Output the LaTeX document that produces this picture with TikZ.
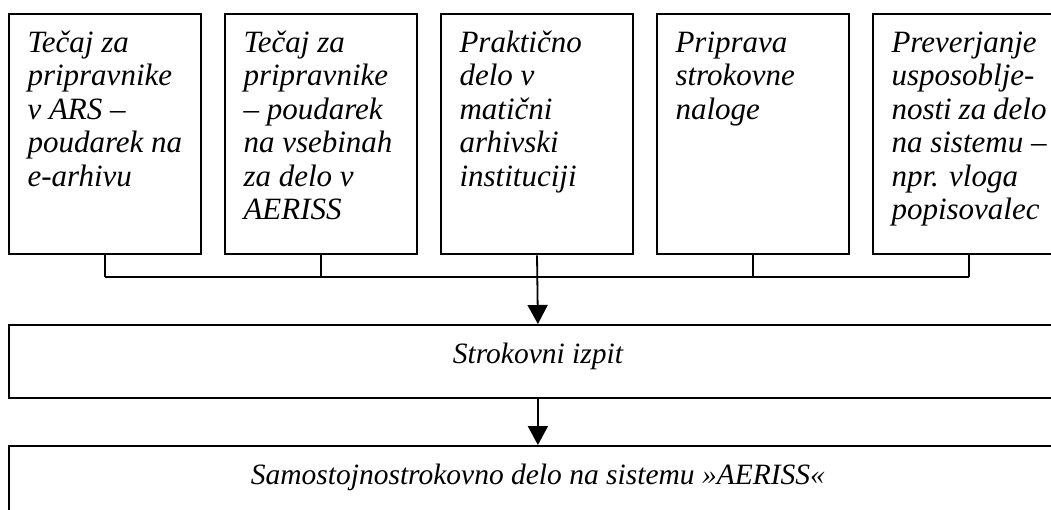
\documentclass[tikz,border=0pt]{standalone}
\usepackage{fontspec}
\setmainfont{Liberation Serif}[ItalicFont={Liberation Serif Italic}]
\usetikzlibrary{arrows.meta}

\newcommand{\stepwidth}{155pt}
\newcommand{\stepheight}{211pt}
\newcommand{\steptext}[1]{\parbox[t][\stepheight][t]{\stepwidth}{\raggedright\strut #1}}

\begin{document}
\begin{tikzpicture}[x=1pt, y=-1pt,
  stepbox/.style={draw, line width=1.8pt, rectangle, anchor=north,
    inner xsep=18.5pt, inner ysep=14.5pt,
    font=\itshape\fontsize{31}{33.5}\selectfont},
  stagebox/.style={draw, line width=1.8pt, rectangle, anchor=north west,
    minimum width=1058pt, inner sep=0pt, text height=39pt, text depth=34pt,
    font=\itshape\fontsize{29.5}{33.5}\selectfont},
  link/.style={line width=1.8pt},
  flow/.style={link, -{Triangle[width=20pt, length=19pt]}}]

  \clip (0,0) rectangle (1051,510);

  % === STEPS ===
  \node[stepbox] (course) at (105,13.5)
    {\steptext{Tečaj za\\pripravnike\\v ARS –\\poudarek na\\e-arhivu}};
  \node[stepbox] (training) at (321,13.5)
    {\steptext{Tečaj za\\pripravnike\\– poudarek\\na vsebinah\\za delo v\\AERISS}};
  \node[stepbox] (practice) at (537,13.5)
    {\steptext{Praktično\\delo v\\matični\\arhivski\\instituciji}};
  \node[stepbox] (task) at (753,13.5)
    {\steptext{Priprava\\strokovne\\naloge}};
  \node[stepbox] (check) at (969,13.5)
    {\steptext{Preverjanje\\usposoblje-\\nosti za delo\\na sistemu –\\npr. vloga\\popisovalec}};

  % === STAGES ===
  \node[stagebox] (exam) at (8,324) {Strokovni izpit};
  \node[stagebox] (work) at (8,445) {Samostojnostrokovno delo na sistemu »AERISS«};

  % === CONNECTORS ===
  \coordinate (bus) at (537,277);
  \draw[link] (course.south) -- (course.south |- bus);
  \draw[link] (training.south) -- (training.south |- bus);
  \draw[link] (task.south) -- (task.south |- bus);
  \draw[link] (check.south) -- (check.south |- bus);
  \draw[link] (course.south |- bus) -- (check.south |- bus);
  \draw[flow] (practice.south) -- (exam.north);
  \draw[flow] (exam.south) -- (work.north);
\end{tikzpicture}
\end{document}
